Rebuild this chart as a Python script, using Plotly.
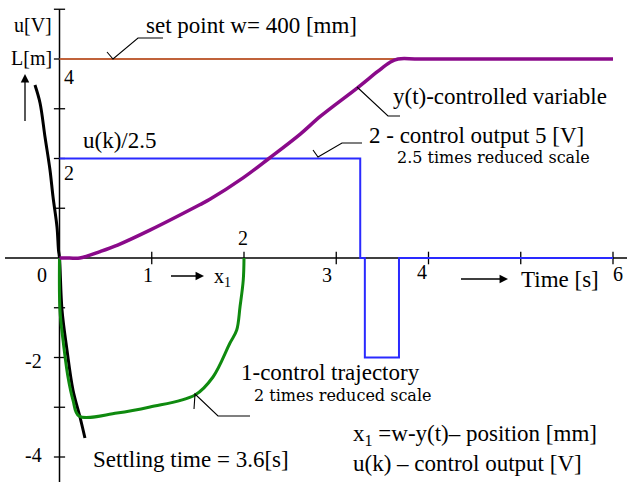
import plotly.graph_objects as go

W, H = 627, 482

# ---- data -------------------------------------------------------------
# controlled variable y(t)
t_y = [0, 0.11, 0.22, 0.44, 0.63, 0.98, 1.52, 1.63, 1.99, 2.27, 2.61, 2.83, 3.23, 3.45, 3.58, 3.67, 3.9, 6.0]
y_out = [0, 0, 0, 0.13, 0.26, 0.56, 1.07, 1.18, 1.61, 2.0, 2.49, 2.85, 3.42, 3.75, 3.93, 4.0, 4.0, 4.0]

# set point (axis units)
t_w = [0, 6.0]
w_set = [4.0, 4.0]

# control output u(k) in volts, drawn reduced by 2.5
t_u = [0, 3.26, 3.31, 3.68, 6.0]
u_volts = [5.0, 0.0, -5.0, 0.0, 0.0]
u_scale = 2.5

# control trajectory in the phase plane (2 times reduced)
traj_x = [0, 0.005, 0.038, 0.092, 0.146, 0.211, 0.623, 0.981, 1.469, 1.664, 1.848, 1.921, 1.957, 1.992, 2.0]
traj_y = [0, -1.045, -1.648, -2.392, -2.854, -3.176, -3.116, -2.995, -2.754, -2.392, -1.709, -1.447, -0.979, -0.442, 0]

# switching curve
sw_x = [-0.266, -0.211, -0.157, -0.103, -0.070, -0.027, -0.011, 0, 0.027, 0.081, 0.146, 0.222, 0.276]
sw_y = [3.477, 3.116, 2.432, 1.769, 1.226, 0.623, 0.161, 0, -1.045, -1.849, -2.653, -3.196, -3.618]

x_ticks = [1, 2, 3, 4, 5, 6]
y_ticks = [-4, -3, -2, -1, 1, 2, 3, 4, 5]
x_tick_text = {0: "0", 1: "1", 2: "2", 3: "3", 4: "4", 6: "6"}
y_tick_text = {4: "4", 2: "2", -2: "-2", -4: "-4"}

# ---- scales -------------------------------------------------------------
X0, XS = 59.5, 92.25      # pixel of x=0, pixels per unit
Y0, YS = 258.0, 49.75     # pixel of y=0, pixels per unit
x_range = [-X0 / XS, (W - X0) / XS]
y_range = [(Y0 - H) / YS, Y0 / YS]


def paper(xp, yp):
    return xp / W, 1 - yp / H


SERIF = "Liberation Serif"
SMALL = "DejaVu Serif"

fig = go.Figure()

# axes
fig.add_trace(go.Scatter(x=[x_range[0] + 5 / XS, x_range[1]], y=[0, 0], mode="lines",
                         line=dict(color="black", width=1.5), hoverinfo="skip"))
fig.add_trace(go.Scatter(x=[0, 0], y=[y_range[0], 5.0], mode="lines",
                         line=dict(color="black", width=1.5), hoverinfo="skip"))
fig.add_trace(go.Scatter(x=x_ticks, y=[0] * len(x_ticks), mode="markers",
                         marker=dict(symbol="line-ns", size=9, line=dict(color="black", width=1.3)),
                         hoverinfo="skip"))
fig.add_trace(go.Scatter(x=[0] * len(y_ticks), y=y_ticks, mode="markers",
                         marker=dict(symbol="line-ew", size=8, line=dict(color="black", width=1.3)),
                         hoverinfo="skip"))

# set point
fig.add_trace(go.Scatter(x=t_w, y=w_set, mode="lines",
                         line=dict(color="#c0623a", width=2)))
# control output
fig.add_trace(go.Scatter(x=t_u, y=[u / u_scale for u in u_volts], mode="lines",
                         line=dict(color="#2a2aff", width=2, shape="hv")))
# switching curve
fig.add_trace(go.Scatter(x=sw_x, y=sw_y, mode="lines",
                         line=dict(color="black", width=3, shape="spline")))
# control trajectory
fig.add_trace(go.Scatter(x=traj_x, y=traj_y, mode="lines",
                         line=dict(color="#0f8a0f", width=3, shape="spline", smoothing=1.0)))
# controlled variable
fig.add_trace(go.Scatter(x=t_y, y=y_out, mode="lines",
                         line=dict(color="#8a0a8a", width=3.5, shape="spline", smoothing=1.0)))

ann = []


def text(s, xp, yp, size=23, font=SERIF, anchor="left"):
    x, y = paper(xp, yp)
    ann.append(dict(text=s, x=x, y=y, xref="paper", yref="paper", xanchor=anchor,
                    yanchor="middle", showarrow=False,
                    font=dict(family=font, size=size, color="black")))


# tick labels: (dx right, dy down) offsets in pixels from the tick
x_lab_shift = {0: (-18, 17), 1: (-4, 17), 2: (-1, -20), 3: (-9, 17), 4: (-7, 14), 6: (5, 16)}
for v, s in x_tick_text.items():
    dx, dy = x_lab_shift[v]
    ann.append(dict(text=s, x=v, y=0, xref="x", yref="y", xanchor="center", yanchor="middle",
                    xshift=dx, yshift=-dy, showarrow=False,
                    font=dict(family=SERIF, size=20, color="black")))
y_lab_shift = {4: (9, 18), 2: (9, 14), -2: (-26, 3), -4: (-26, -2)}
for v, s in y_tick_text.items():
    dx, dy = y_lab_shift[v]
    ann.append(dict(text=s, x=0, y=v, xref="x", yref="y", xanchor="center", yanchor="middle",
                    xshift=dx, yshift=-dy, showarrow=False,
                    font=dict(family=SERIF, size=20, color="black")))

text("u[V]", 54, 25, size=20, anchor="right")
text("L[m]", 54, 58, size=20, anchor="right")
text("set point w= 400 [mm]", 144, 25)
text("y(t)-controlled variable", 391, 97)
text("2 - control output 5 [V]", 367, 135)
text("2.5 times reduced scale", 395, 158, size=16, font=SMALL)
text("u(k)/2.5", 81, 140)
text("x<sub>1</sub>", 212, 277, size=20)
text("Time [s]", 519, 279)
text("1-control trajectory", 239, 372)
text("2 times reduced scale", 252, 395, size=16, font=SMALL)
text("Settling time = 3.6[s]", 91, 459)
text("x<sub>1</sub> =w-y(t)– position [mm]", 351, 435)
text("u(k) – control output [V]", 351, 463)


def arrow(x1, y1, x2, y2):
    hx, hy = paper(x2, y2)
    ann.append(dict(x=hx, y=hy, xref="paper", yref="paper", ax=x1 - x2, ay=y1 - y2,
                    axref="pixel", ayref="pixel", showarrow=True, arrowhead=2,
                    arrowsize=1.3, arrowwidth=1.3, arrowcolor="black", text=" "))


arrow(168, 276, 204, 276)
arrow(458, 279, 508, 279)
arrow(25, 131, 25, 74)

shapes = []


def leader(pts):
    path = ""
    for i, (xp, yp) in enumerate(pts):
        x, y = paper(xp, yp)
        path += ("M" if i == 0 else "L") + f"{x},{y} "
    shapes.append(dict(type="path", path=path.strip(), xref="paper", yref="paper",
                       line=dict(color="black", width=1.1)))


leader([(107, 52), (113, 59), (138, 38), (163, 38)])
leader([(357, 87), (388, 116), (400, 116)])
leader([(313, 150), (318, 157), (342, 143), (362, 143)])
leader([(194, 409), (195, 394), (218, 416), (250, 416)])

fig.update_layout(
    width=W, height=H, margin=dict(l=0, r=0, t=0, b=0),
    paper_bgcolor="white", plot_bgcolor="white", showlegend=False,
    xaxis=dict(range=x_range, visible=False, fixedrange=True),
    yaxis=dict(range=y_range, visible=False, fixedrange=True),
    annotations=ann, shapes=shapes,
)

fig.write_html("out.html")
